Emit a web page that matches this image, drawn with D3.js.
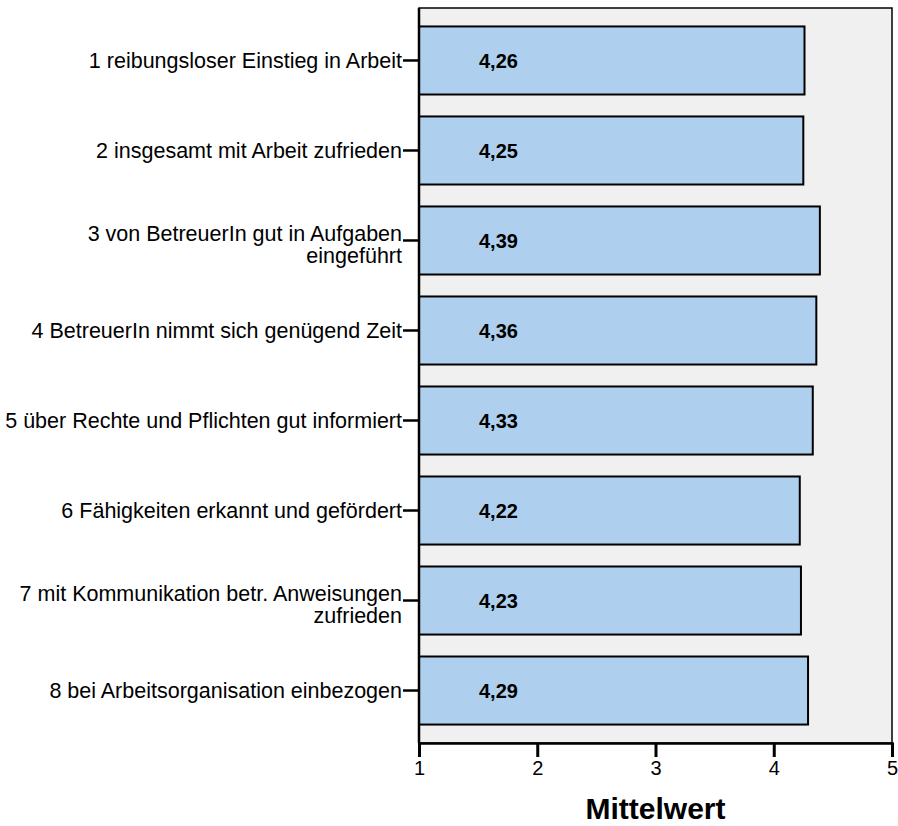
<!DOCTYPE html>
<html>
<head>
<meta charset="utf-8">
<script src="https://cdn.jsdelivr.net/npm/d3@7"></script>
<style>
  body { margin: 0; background: #fff; }
  text { font-family: "Liberation Sans", Arial, sans-serif; }
</style>
</head>
<body>
<svg id="chart" width="898" height="826"></svg>
<script>
// item labels (split into lines like the original)
var items = [
  ["1 reibungsloser Einstieg in Arbeit"],
  ["2 insgesamt mit Arbeit zufrieden"],
  ["3 von BetreuerIn gut in Aufgaben", "eingeführt"],
  ["4 BetreuerIn nimmt sich genügend Zeit"],
  ["5 über Rechte und Pflichten gut informiert"],
  ["6 Fähigkeiten erkannt und gefördert"],
  ["7 mit Kommunikation betr. Anweisungen", "zufrieden"],
  ["8 bei Arbeitsorganisation einbezogen"]
];
var means = [4.26, 4.25, 4.39, 4.36, 4.33, 4.22, 4.23, 4.29];
var xTicks = [1, 2, 3, 4, 5];
var axisTitle = "Mittelwert";

var svg = d3.select("#chart");
var pLeft = 419, pRight = 892, pTop = 8, pBottom = 743;

var x = d3.scaleLinear().domain([1, 5]).range([pLeft, pRight]);
var y = d3.scaleBand()
  .domain(d3.range(items.length))
  .range([pTop, pBottom])
  .paddingInner(0.244)
  .paddingOuter(0.205);

// plot background + frame
svg.append("rect")
  .attr("x", pLeft).attr("y", pTop)
  .attr("width", pRight - pLeft).attr("height", pBottom - pTop)
  .attr("fill", "#f0f0f0")
  .attr("stroke", "#000").attr("stroke-width", 1.5);

// bars
svg.selectAll(".bar")
  .data(means)
  .enter().append("rect")
  .attr("class", "bar")
  .attr("x", x(1))
  .attr("y", function(d, i) { return y(i); })
  .attr("width", function(d) { return x(d) - x(1); })
  .attr("height", y.bandwidth())
  .attr("fill", "#aed0ee")
  .attr("stroke", "#000")
  .attr("stroke-width", 2);

// value labels inside bars
svg.selectAll(".val")
  .data(means)
  .enter().append("text")
  .attr("class", "val")
  .attr("x", x(1) + 60)
  .attr("y", function(d, i) { return y(i) + y.bandwidth() / 2; })
  .attr("dy", "0.36em")
  .attr("font-size", "20px")
  .attr("font-weight", "bold")
  .text(function(d) { return d.toFixed(2).replace(".", ","); });

// left axis: ticks + multi-line labels
var gy = svg.append("g");
items.forEach(function(lines, i) {
  var cy = y(i) + y.bandwidth() / 2;
  gy.append("line")
    .attr("x1", pLeft - 16).attr("x2", pLeft)
    .attr("y1", cy).attr("y2", cy)
    .attr("stroke", "#000").attr("stroke-width", 2.5);
  var t = gy.append("text")
    .attr("text-anchor", "end")
    .attr("font-size", "21.5px");
  var y0 = lines.length > 1 ? cy - 7 : cy;
  lines.forEach(function(s, k) {
    t.append("tspan")
      .attr("x", pLeft - 17)
      .attr("y", y0 + k * 22)
      .attr("dy", "0.36em")
      .text(s);
  });
});
// left axis line
svg.append("line")
  .attr("x1", pLeft).attr("x2", pLeft)
  .attr("y1", pTop).attr("y2", pBottom)
  .attr("stroke", "#000").attr("stroke-width", 2.5);

// bottom axis
var gx = svg.append("g")
  .attr("transform", "translate(0," + pBottom + ")")
  .call(d3.axisBottom(x).tickValues(xTicks).tickSize(14).tickPadding(4).tickFormat(d3.format("d")));
gx.select(".domain").attr("stroke-width", 2.5);
gx.selectAll(".tick line").attr("stroke-width", 3);
gx.selectAll(".tick text")
  .attr("font-size", "20px")
  .attr("font-family", "Liberation Sans, Arial, sans-serif");

svg.append("text")
  .attr("x", (pLeft + pRight) / 2)
  .attr("y", 819)
  .attr("text-anchor", "middle")
  .attr("font-size", "30px")
  .attr("font-weight", "bold")
  .text(axisTitle);
</script>
</body>
</html>
